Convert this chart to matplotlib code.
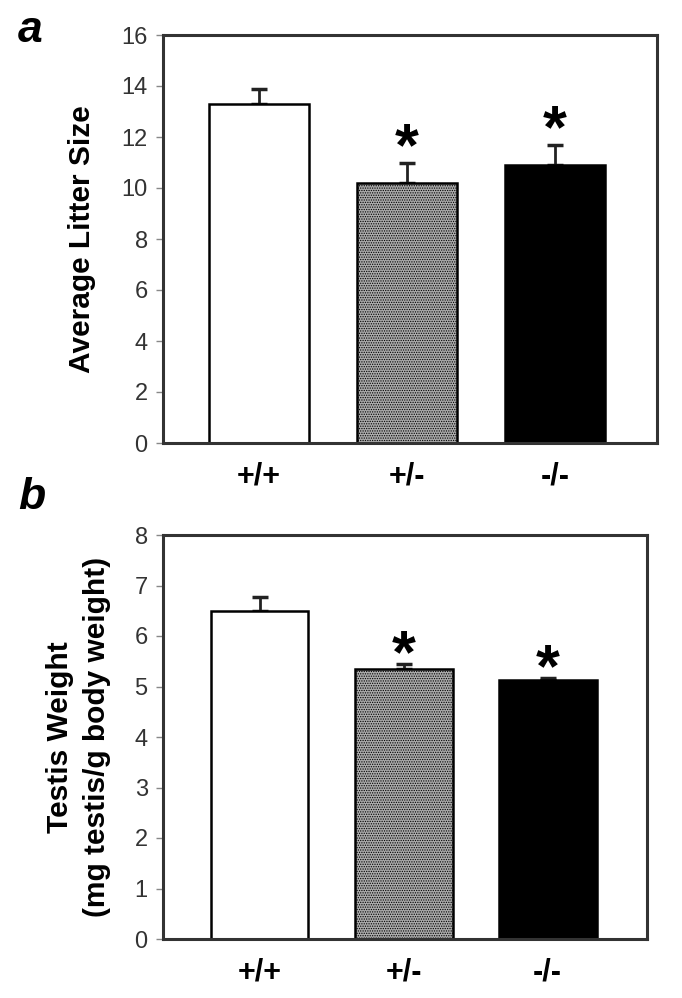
import matplotlib
matplotlib.use("Agg")
import matplotlib.pyplot as plt

plt.rcParams['font.family'] = ['Liberation Sans', 'DejaVu Sans']
plt.rcParams['hatch.linewidth'] = 0.6
plt.rcParams['hatch.color'] = '#555555'

genotypes = ["+/+", "+/-", "-/-"]
litter_mean = [13.3, 10.2, 10.9]
litter_err = [0.6, 0.8, 0.8]
testis_mean = [6.5, 5.35, 5.13]
testis_err = [0.28, 0.1, 0.04]
signif = [False, True, True]

fig = plt.figure(figsize=(6.82, 9.98), dpi=100)
W, H = 682, 998

def add_ax(x0, x1, y0, y1):
    return fig.add_axes([x0 / W, 1 - y1 / H, (x1 - x0) / W, (y1 - y0) / H])

ax_a = add_ax(163, 657, 35, 443)
ax_b = add_ax(163, 647, 535, 939)

faces = ['white', '#ababab', 'black']
hatches = [None, '.......', None]

def draw(ax, means, errs, ymax, step, star_off, xlim):
    x = list(range(len(genotypes)))
    for i in x:
        ax.bar(i, means[i], width=0.68, color=faces[i], edgecolor='black',
               linewidth=1.8, hatch=hatches[i], zorder=2)
        ax.errorbar(i, means[i], yerr=[[0], [errs[i]]], fmt='none',
                    ecolor='#222222', elinewidth=2, capsize=6, capthick=2.5, zorder=1)
        if signif[i]:
            ax.text(i, means[i] + errs[i] + star_off, '*', ha='center', va='center',
                    fontsize=44, fontweight='bold')
    ax.set_ylim(0, ymax)
    ax.set_xlim(*xlim)
    ax.set_yticks([v for v in range(0, ymax + 1, step)])
    ax.set_xticks(x)
    ax.set_xticklabels(genotypes, fontsize=22, fontweight='bold')
    ax.tick_params(axis='x', length=0, pad=13)
    ax.tick_params(axis='y', length=5, width=1, direction='out', labelsize=17,
                   labelcolor='#333333', color='#888888', pad=6)
    for s in ax.spines.values():
        s.set_linewidth(2.2)
        s.set_color('#333333')

draw(ax_a, litter_mean, litter_err, 16, 2, 0.5, (-0.65, 2.69))
draw(ax_b, testis_mean, testis_err, 8, 1, 0.15, (-0.67, 2.69))

ax_a.set_ylabel('Average Litter Size', fontsize=21.5, fontweight='bold', labelpad=18)
ax_b.set_ylabel('Testis Weight\n(mg testis/g body weight)', fontsize=21.5,
                fontweight='bold', labelpad=17, linespacing=1.4)

fig.text(18 / W, 1 - 30 / H, 'a', fontsize=32, fontweight='bold', fontstyle='italic',
         ha='left', va='center')
fig.text(18 / W, 1 - 498 / H, 'b', fontsize=32, fontweight='bold', fontstyle='italic',
         ha='left', va='center')

fig.savefig('out.png', dpi=100)
